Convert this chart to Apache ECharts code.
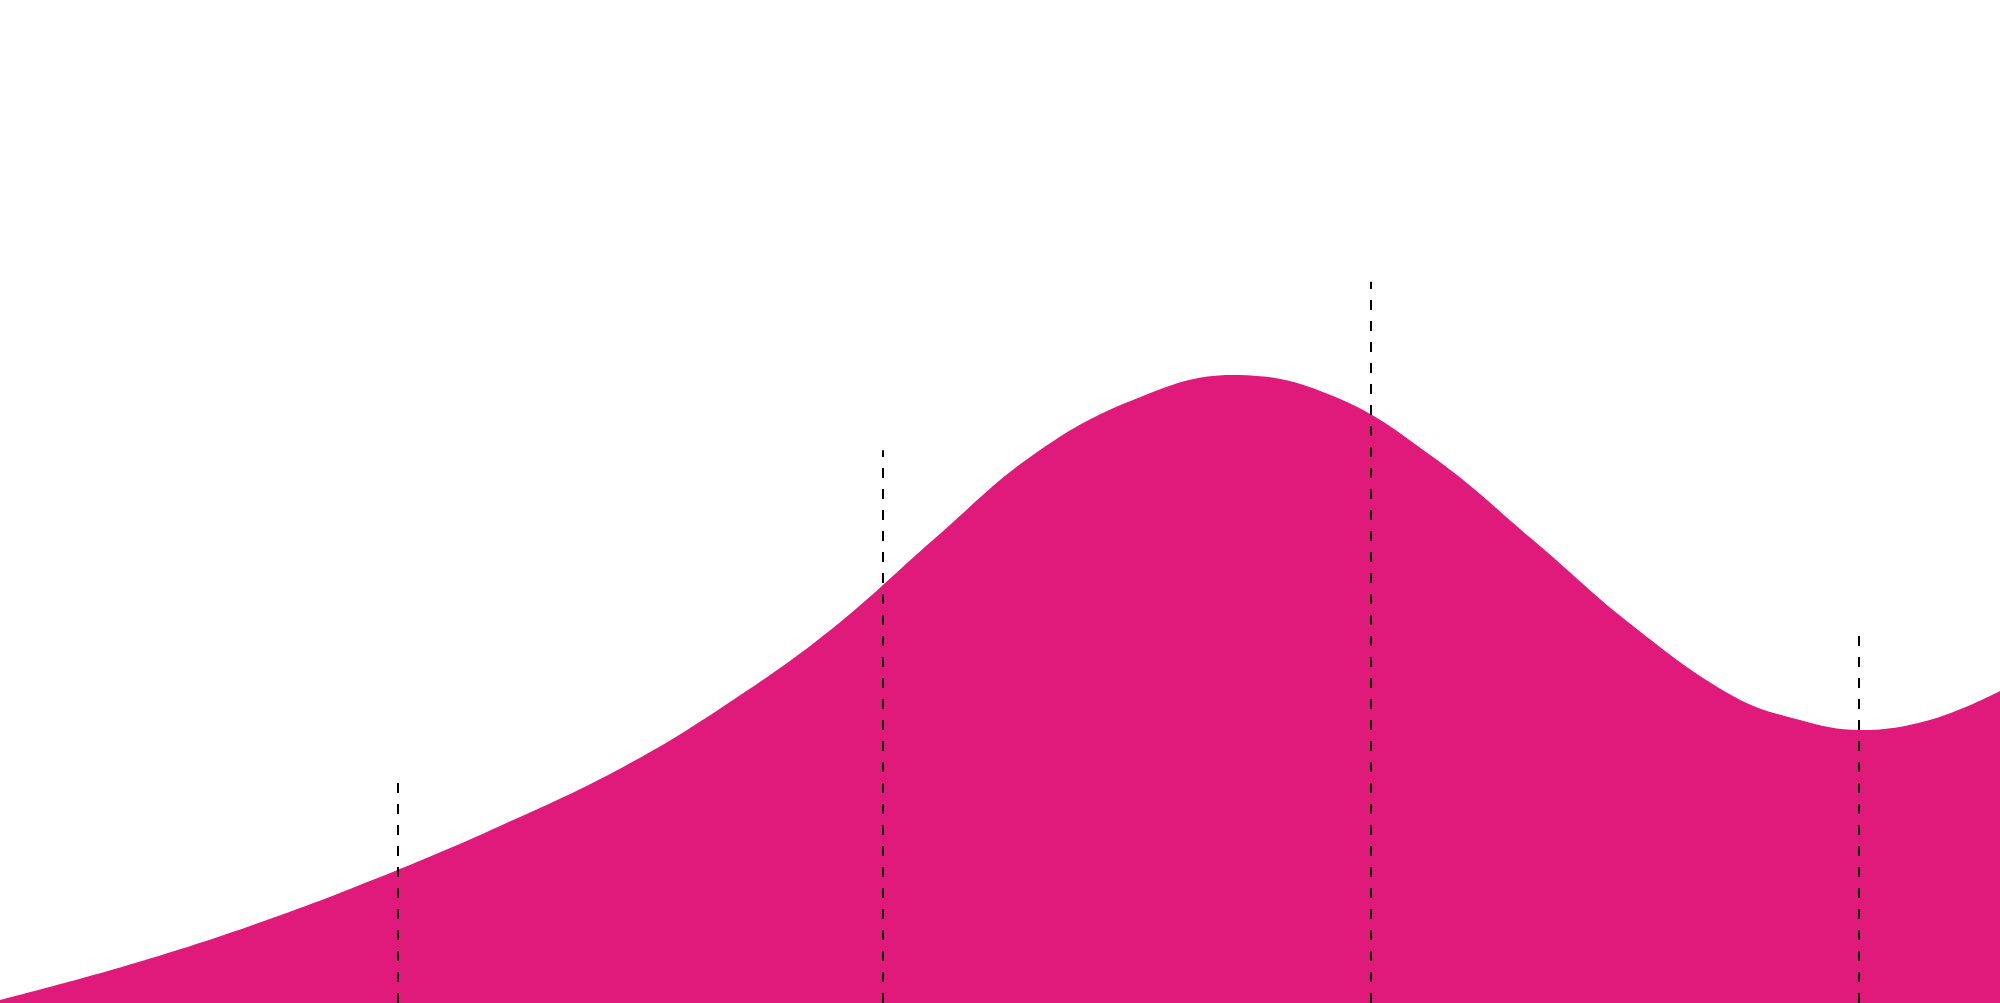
<!DOCTYPE html>
<html>
<head>
<meta charset="utf-8">
<style>
  html, body { margin: 0; padding: 0; background: #ffffff; }
  #chart { width: 2000px; height: 1003px; }
</style>
<script src="https://cdn.jsdelivr.net/npm/echarts@6/dist/echarts.min.js"></script>
</head>
<body>
<div id="chart"></div>
<script>
// Area curve: x position (0-100 across the chart), value (0-100 of chart height)
const curveX = [0, 6.25, 12.5, 18.75, 25, 31.25, 36.65, 41.65, 46.65, 51.65, 56.65, 61.65, 66.65, 71.65, 76.65, 81.65, 86.65, 90, 93, 96.65, 100];
const curveY = [0.3, 3.69, 7.68, 12.36, 17.65, 23.63, 30.21, 37.39, 46.16, 54.64, 60.12, 62.61, 60.52, 54.44, 46.16, 37.59, 30.61, 28.22, 27.22, 28.32, 31.11];

// Dashed markers: x position and height
const markerX = [19.9, 44.15, 68.55, 92.95];
const markerY = [22.4, 55.1, 71.9, 37.0];

const chart = echarts.init(document.getElementById('chart'));

const areaData = curveX.map((x, i) => [x, curveY[i]]);
const markLineData = markerX.map((x, i) => [
  { coord: [x, 0] },
  { coord: [x, markerY[i]] }
]);

chart.setOption({
  backgroundColor: '#ffffff',
  animation: false,
  grid: { left: 0, right: 0, top: 0, bottom: 0 },
  xAxis: { type: 'value', min: 0, max: 100, show: false },
  yAxis: { type: 'value', min: 0, max: 100, show: false },
  series: [{
    type: 'line',
    data: areaData,
    smooth: 0.4,
    showSymbol: false,
    symbol: 'none',
    lineStyle: { width: 0 },
    areaStyle: { color: '#e01a7a', opacity: 1 },
    z: 2,
    markLine: {
      silent: true,
      symbol: ['none', 'none'],
      label: { show: false },
      lineStyle: { color: '#000000', width: 2, type: [10, 11] },
      data: markLineData,
      z: 5
    }
  }]
});
</script>
</body>
</html>
